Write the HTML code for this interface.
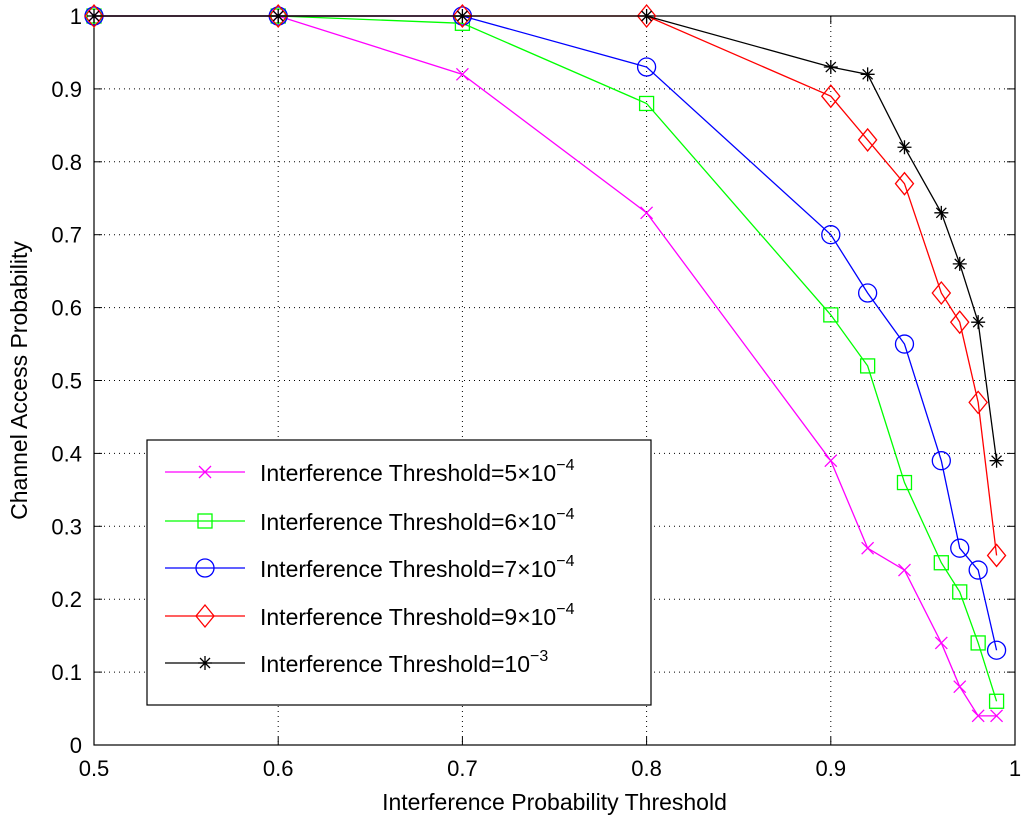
<!DOCTYPE html>
<html><head><meta charset="utf-8"><style>
html,body{margin:0;padding:0;background:#fff;}
svg{display:block;font-family:"Liberation Sans",Arial,sans-serif;}
</style></head><body>
<svg id="chart" width="1024" height="825" viewBox="0 0 1024 825">
<rect x="0" y="0" width="1024" height="825" fill="#fff"/>
<g id="grid"></g>
<g id="axes"></g>
<g id="series"></g>
<g id="legend"></g>
</svg>
<script>
const xValues = [0.5,0.6,0.7,0.8,0.9,0.92,0.94,0.96,0.97,0.98,0.99];
const s5e4 = [1,1,0.92,0.73,0.39,0.27,0.24,0.14,0.08,0.04,0.04];
const s6e4 = [1,1,0.99,0.88,0.59,0.52,0.36,0.25,0.21,0.14,0.06];
const s7e4 = [1,1,1,0.93,0.70,0.62,0.55,0.39,0.27,0.24,0.13];
const s9e4 = [1,1,1,1,0.89,0.83,0.77,0.62,0.58,0.47,0.26];
const s1e3 = [1,1,1,1,0.93,0.92,0.82,0.73,0.66,0.58,0.39];
const xTicks = ['0.5','0.6','0.7','0.8','0.9','1'];
const yTicks = ['0','0.1','0.2','0.3','0.4','0.5','0.6','0.7','0.8','0.9','1'];
const legendLabels = ['5×10','6×10','7×10','9×10','10'];
const legendExps = ['−4','−4','−4','−4','−3'];

const NS='http://www.w3.org/2000/svg';
const L=94,R=1015,T=16,B=745;
const xs=v=>L+(v-0.5)/0.5*(R-L);
const ys=v=>B-v*(B-T);
function mk(tag,attrs,parent){const e=document.createElementNS(NS,tag);for(const k in attrs)e.setAttribute(k,attrs[k]);parent.appendChild(e);return e;}
const grid=document.getElementById('grid'),axes=document.getElementById('axes'),ser=document.getElementById('series'),leg=document.getElementById('legend');

xTicks.forEach(t=>{const x=xs(parseFloat(t));
 if(x>L+1&&x<R-1){const g=mk('line',{x1:x,x2:x,y1:T,y2:B,stroke:'#000','stroke-width':1,'stroke-dasharray':'1,4'},grid);}
 mk('line',{x1:x,x2:x,y1:B,y2:B-8,stroke:'#000'},axes);mk('line',{x1:x,x2:x,y1:T,y2:T+8,stroke:'#000'},axes);
 const tx=mk('text',{x:x,y:B+31,'font-size':22,'text-anchor':'middle'},axes);tx.textContent=t;
 });
yTicks.forEach(t=>{const y=ys(parseFloat(t));
 if(y>T+1&&y<B-1){const g=mk('line',{x1:L,x2:R,y1:y,y2:y,stroke:'#000','stroke-width':1,'stroke-dasharray':'1,4'},grid);}
 mk('line',{x1:L,x2:L+8,y1:y,y2:y,stroke:'#000'},axes);mk('line',{x1:R,x2:R-8,y1:y,y2:y,stroke:'#000'},axes);
 const tx=mk('text',{x:L-12,y:y+8,'font-size':22,'text-anchor':'end'},axes);tx.textContent=t;
 });
const frame=mk('rect',{x:L,y:T,width:R-L,height:B-T,fill:'none',stroke:'#000','stroke-width':1.2},axes);

const xl=mk('text',{x:(L+R)/2,y:810,'font-size':23,'text-anchor':'middle'},axes);xl.textContent='Interference Probability Threshold';

const yl=mk('text',{x:0,y:0,'font-size':23,'text-anchor':'middle',transform:`translate(27,${(T+B)/2}) rotate(-90)`},axes);yl.textContent='Channel Access Probability';


function marker(type,x,y,c,p){
 if(type==='x'){mk('path',{d:`M${x-6},${y-6}L${x+6},${y+6}M${x-6},${y+6}L${x+6},${y-6}`,stroke:c,'stroke-width':1.3,fill:'none'},p);}
 else if(type==='s'){mk('rect',{x:x-7,y:y-7,width:14,height:14,stroke:c,'stroke-width':1.3,fill:'none'},p);}
 else if(type==='o'){mk('circle',{cx:x,cy:y,r:9,stroke:c,'stroke-width':1.3,fill:'none'},p);}
 else if(type==='d'){mk('path',{d:`M${x},${y-11}L${x+9},${y}L${x},${y+11}L${x-9},${y}Z`,stroke:c,'stroke-width':1.3,fill:'none'},p);}
 else {mk('path',{d:`M${x-7},${y}L${x+7},${y}M${x},${y-7}L${x},${y+7}M${x-5},${y-5}L${x+5},${y+5}M${x-5},${y+5}L${x+5},${y-5}`,stroke:c,'stroke-width':1.3,fill:'none'},p);}
}
const defs=[[s5e4,'#ff00ff','x','series-5e-4'],[s6e4,'#00ff00','s','series-6e-4'],[s7e4,'#0000ff','o','series-7e-4'],[s9e4,'#ff0000','d','series-9e-4'],[s1e3,'#000000','*','series-1e-3']];
defs.forEach(([vals,c,m,name])=>{
 const g=mk('g',{},ser);
 mk('polyline',{points:vals.map((v,i)=>xs(xValues[i])+','+ys(v)).join(' '),fill:'none',stroke:c,'stroke-width':1.3},g);
 vals.forEach((v,i)=>marker(m,xs(xValues[i]),ys(v),c,g));
});
const lb=mk('rect',{x:147,y:440,width:504,height:265,fill:'#fff',stroke:'#000','stroke-width':1.2},leg);

const ly=[472,521,568,616,663];
defs.forEach(([v,c,m],i)=>{
 const g=mk('g',{},leg);
 mk('line',{x1:165,x2:245,y1:ly[i],y2:ly[i],stroke:c,'stroke-width':1.3},g);marker(m,205,ly[i],c,g);
 const t=mk('text',{x:260,y:ly[i]+9,'font-size':23},g);
 t.appendChild(document.createTextNode('Interference Threshold='+legendLabels[i]));
 const sp=mk('tspan',{dy:-11,'font-size':16},t);sp.textContent=legendExps[i];
});
</script>
</body></html>
